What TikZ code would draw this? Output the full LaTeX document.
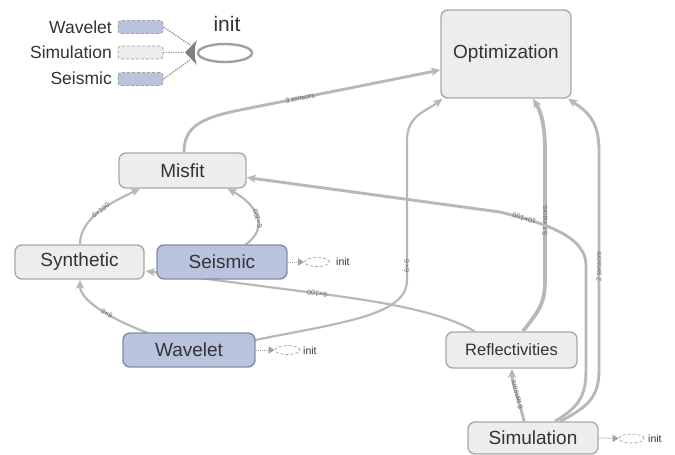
\documentclass[tikz,border=0pt]{standalone}
\usepackage{fontspec}
\setmainfont{Liberation Sans}
\usetikzlibrary{arrows.meta,shapes.geometric}
\definecolor{boxfill}{HTML}{EDEDED}
\definecolor{boxline}{HTML}{A9A9A9}
\definecolor{bluefill}{HTML}{B9C3DD}
\definecolor{blueline}{HTML}{858EA6}
\definecolor{edgecol}{HTML}{B8B8B8}
\definecolor{txt}{HTML}{333333}
\definecolor{lbl}{HTML}{6A6A6A}
\definecolor{stub}{HTML}{A0A0A0}

\begin{document}
\begin{tikzpicture}[x=1pt,y=-1pt,
  op/.style={draw=boxline, fill=boxfill, line width=1.4pt, rounded corners=7pt,
    inner sep=0pt, text=txt, font=\fontsize{19}{22}\selectfont},
  opblue/.style={op, fill=bluefill, draw=blueline},
  flow/.style={draw=edgecol, line width=2.2pt,
    -{Stealth[length=9pt,width=8pt,inset=2pt]}},
  midflow/.style={flow, line width=2.9pt},
  heavy/.style={flow, line width=3.8pt},
  elabel/.style={font=\fontsize{7.2}{8}\selectfont, text=lbl, sloped,
    allow upside down, inner sep=0.3pt},
  initell/.style={ellipse, draw=stub, densely dashed, line width=0.7pt,
    minimum width=25pt, minimum height=9pt, inner sep=0pt},
  initlbl/.style={font=\fontsize{10.5}{12}\selectfont, text=txt, anchor=west, inner sep=0pt},
  initlink/.style={draw=stub, densely dotted, line width=1pt,
    -{Triangle[length=6pt,width=7pt]}},
  legtext/.style={font=\fontsize{17.5}{20}\selectfont, text=txt, anchor=east, inner sep=0pt},
  legbox/.style={draw=stub, densely dashed, line width=0.8pt, rounded corners=3pt,
    minimum width=45pt, minimum height=13pt, inner sep=0pt},
  leglink/.style={draw=stub, densely dotted, line width=1.4pt}
]
\useasboundingbox (0,0) rectangle (675,455);

% ---------- operation nodes ----------
\node[op, minimum width=130pt, minimum height=88pt] (opt) at (506,54) {Optimization};
\node[op, minimum width=127pt, minimum height=35pt] (misfit) at (182.5,170.5) {Misfit};
\node[op, minimum width=129pt, minimum height=34pt] (synth) at (79.5,262) {Synthetic};
\node[op, minimum width=131pt, minimum height=36pt,
      font=\fontsize{16.5}{19}\selectfont] (refl) at (511.5,350) {Reflectivities};
\node[op, minimum width=130pt, minimum height=32pt] (sim) at (533,438) {Simulation};

% ---------- data-flow edges ----------
\draw[midflow] ([xshift=1.5pt]misfit.north) .. controls +(0,-25) and +(-40,8) .. (240,110)
  -- ([yshift=-16pt]opt.west) node[elabel, pos=0.3] {3 tensors};
\draw[flow] ([xshift=0.5pt]synth.north) .. controls +(0,-28) and +(-25,12) ..
  ([xshift=-42.5pt]misfit.south) node[elabel, pos=0.5] {6×100};
\draw[flow] (245,245) .. controls +(26,-18) and +(28,15) ..
  ([xshift=45pt]misfit.south) node[elabel, pos=0.45] {6×100};
\draw[flow] ([xshift=-37pt]refl.north) .. controls +(-30,-18) and +(60,8) .. (330,295)
  -- ([xshift=1pt,yshift=-9pt]synth.east) node[elabel, pos=0.07] {6×100};
\draw[flow] (148,333) .. controls +(-40,-15) and +(0,20) ..
  ([xshift=0.5pt]synth.south) node[elabel, pos=0.4] {6×6};
\draw[flow] (255,340) .. controls +(90,-18) and +(0,35) .. (407,280)
  -- (407,140) node[elabel, pos=0.1] {6×6}
  .. controls +(0,-25) and +(-15,12) .. ([xshift=2pt]opt.south west);
\draw[heavy] ([xshift=11.5pt]refl.north) .. controls +(15,-20) and +(0,25) .. (545,280)
  -- (545,150) node[elabel, pos=0.46] {5 tensors}
  .. controls +(0,-30) and +(6,10) .. ([xshift=27pt]opt.south);
\draw[midflow] ([xshift=27pt]sim.north) .. controls +(30,-15) and +(0,25) .. (599,370)
  -- (599,150) node[elabel, pos=0.47] {2 tensors}
  .. controls +(0,-30) and +(18,12) .. ([xshift=62pt]opt.south);
\draw[midflow] ([xshift=22pt]sim.north) .. controls +(25,-15) and +(0,25) .. (586,370)
  -- (586,265) .. controls +(0,-30) and +(40,10) .. (500,212)
  node[elabel, pos=0.8] {10×100}
  -- ([yshift=-7pt]misfit.east);
\draw[midflow] ([xshift=-9pt]sim.north) .. controls +(-3,-15) and +(0,15) ..
  ([xshift=0.5pt]refl.south) node[elabel, pos=0.5] {6 tensors};

% ---------- variable nodes (drawn over the edges) ----------
\node[opblue, minimum width=130pt, minimum height=34pt] (seismic) at (222,262) {Seismic};
\node[opblue, minimum width=132pt, minimum height=34pt] (wavelet) at (189,350) {Wavelet};

% ---------- init stubs ----------
\node[initell] (seisinit) at (317,262) {};
\node[initlbl] at (336,262) {init};
\draw[initlink] (seismic.east) -- (seisinit.west);

\node[initell] (wavinit) at (287.5,350) {};
\node[initlbl] at (303,350.5) {init};
\draw[initlink] (wavelet.east) -- (wavinit.west);

\node[initell] (siminit) at (631.5,438.5) {};
\node[initlbl] at (648,439) {init};
\draw[initlink] (sim.east) -- (siminit.west);

% ---------- legend: init group ----------
\node[legtext] (lw) at (112,27) {Wavelet};
\node[legtext] (ls) at (112,52) {Simulation};
\node[legtext] (lq) at (112,78) {Seismic};
\node[legbox, fill=bluefill] (bw) at (140.5,27) {};
\node[legbox, fill=boxfill] (bs) at (140.5,52.5) {};
\node[legbox, fill=bluefill] (bq) at (140.5,79) {};
\node[ellipse, draw=stub, line width=2.4pt, minimum width=54pt, minimum height=18pt,
      inner sep=0pt] (ginit) at (225,53) {};
\node[font=\fontsize{21}{24}\selectfont, text=txt, inner sep=0pt] (ginitlbl) at (227,24) {init};
\coordinate (fanw) at (190,45);
\coordinate (fans) at (187,52.5);
\coordinate (fanq) at (190,60);
\draw[leglink] (bw.east) -- (fanw);
\draw[leglink] (bs.east) -- (fans);
\draw[leglink] (bq.east) -- (fanq);
\fill[stub!80!black] (185,52.5) -- (197,40) .. controls (194,47) and (194,58) ..
  (197,65) -- cycle;
\end{tikzpicture}
\end{document}
